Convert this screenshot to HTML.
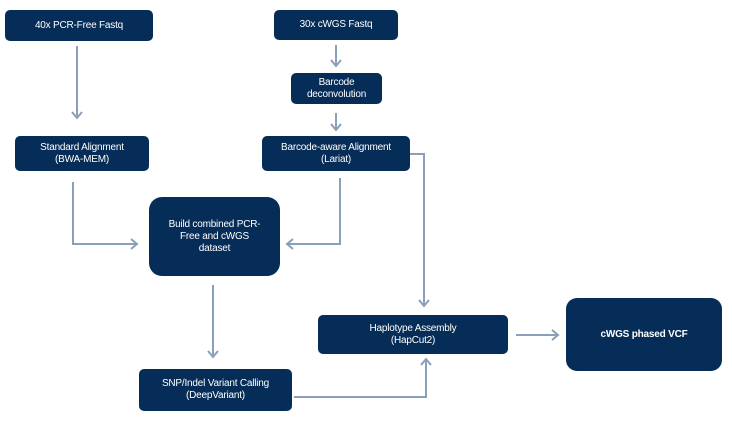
<!DOCTYPE html>
<html><head><style>
body{margin:0;width:732px;height:424px;background:#fff;position:relative;overflow:hidden;font-family:"Liberation Sans",sans-serif}
.b{position:absolute;background:#062d57;color:#fff;font-size:10px;line-height:12px;display:flex;align-items:center;justify-content:center;text-align:center;border-radius:5px;letter-spacing:-0.2px}
svg{position:absolute;left:0;top:0}
</style></head><body>
<div class="b" style="left:5px;top:10px;width:148px;height:31px">40x PCR-Free Fastq</div>
<div class="b" style="left:274px;top:10px;width:124px;height:30px">30x cWGS Fastq</div>
<div class="b" style="left:291px;top:73px;width:91px;height:31px">Barcode<br>deconvolution</div>
<div class="b" style="left:15px;top:136px;width:134px;height:35px">Standard Alignment<br>(BWA-MEM)</div>
<div class="b" style="left:262px;top:136px;width:148px;height:35px">Barcode-aware Alignment<br>(Lariat)</div>
<div class="b" style="left:149px;top:197px;width:131px;height:79px;border-radius:13px">Build combined PCR-<br>Free and cWGS<br>dataset</div>
<div class="b" style="left:318px;top:315px;width:190px;height:39px">Haplotype Assembly<br>(HapCut2)</div>
<div class="b" style="left:566px;top:298px;width:156px;height:73px;border-radius:11px;font-weight:bold">cWGS phased VCF</div>
<div class="b" style="left:139px;top:369px;width:153px;height:42px">SNP/Indel Variant Calling<br>(DeepVariant)</div>
<svg width="732" height="424" fill="none" stroke="#8aa0b8" stroke-width="2">
<path d="M77 46V118M72 112l5 6 5-6"/>
<path d="M336 45V66M331 60l5 6 5-6"/>
<path d="M336 113V130M331 124l5 6 5-6"/>
<path d="M73 182V244H137M131 239l6 5-6 5"/>
<path d="M340 178V244H287M293 239l-6 5 6 5"/>
<path d="M410 154H424V306M419 300l5 6 5-6"/>
<path d="M213 285V357M208 351l5 6 5-6"/>
<path d="M294 397H426V359M421 365l5-6 5 6"/>
<path d="M516 335H558M552 330l6 5-6 5"/>
</svg>
</body></html>
